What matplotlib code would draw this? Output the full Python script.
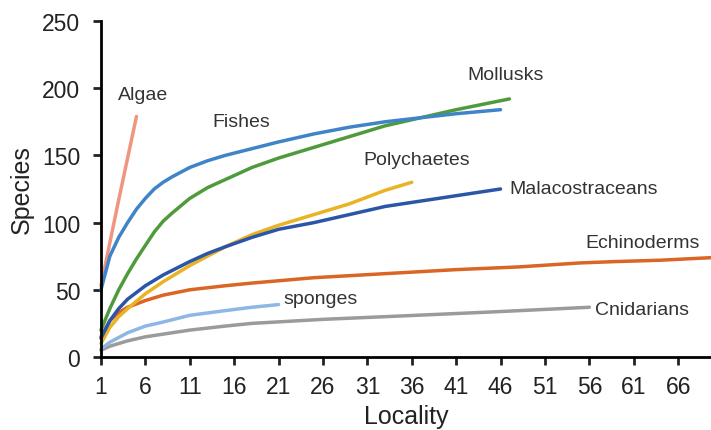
import matplotlib
matplotlib.use("Agg")
import matplotlib.pyplot as plt

plt.rcParams['font.family'] = ['Liberation Sans', 'DejaVu Sans']

# species accumulation curves
algae_x = [1, 2, 3, 4, 5]
algae_y = [53, 85, 117, 148, 179]

fishes_x = [1, 2, 3, 4, 5, 6, 7, 8, 9, 11, 13, 15, 18, 21, 25, 29, 33, 37, 41, 46]
fishes_y = [50, 75, 89, 100, 110, 118, 125, 130, 134, 141, 146, 150, 155, 160, 166, 171, 175, 178, 181, 184]

mollusks_x = [1, 2, 3, 4, 5, 6, 7, 8, 9, 11, 13, 15, 18, 21, 25, 29, 33, 37, 41, 47]
mollusks_y = [20, 36, 50, 62, 73, 83, 93, 101, 107, 118, 126, 132, 141, 148, 156, 164, 172, 178, 184, 192]

poly_x = [1, 2, 3, 4, 6, 8, 11, 13, 15, 18, 21, 25, 29, 33, 36]
poly_y = [10, 22, 30, 36, 47, 56, 68, 75, 82, 91, 98, 106, 114, 124, 130]

mala_x = [1, 2, 3, 4, 6, 8, 11, 13, 15, 18, 21, 25, 29, 33, 37, 41, 46]
mala_y = [14, 27, 36, 43, 53, 61, 71, 77, 82, 89, 95, 100, 106, 112, 116, 120, 125]

echino_x = [1, 2, 3, 4, 6, 8, 11, 15, 18, 25, 33, 41, 48, 55, 59, 64, 70]
echino_y = [15, 27, 33, 37, 42, 46, 50, 53, 55, 59, 62, 65, 67, 70, 71, 72, 74]

sponge_x = [1, 2, 4, 6, 8, 11, 15, 18, 21]
sponge_y = [6, 11, 18, 23, 26, 31, 34.5, 37, 39]

cnid_x = [1, 2, 4, 6, 8, 11, 15, 18, 26, 33, 45, 56]
cnid_y = [5, 8, 12, 15, 17, 20, 23, 25, 28, 30, 33.5, 37]

xticks = list(range(1, 67, 5))
yticks = [0, 50, 100, 150, 200, 250]

fig = plt.figure(figsize=(7.11, 4.31), dpi=100)
ax = fig.add_axes([0.142, 0.1694, 0.858, 0.7796])

lw = 2.5
series = [
    (algae_x, algae_y, '#F0957E'),
    (cnid_x, cnid_y, '#9B9B9B'),
    (sponge_x, sponge_y, '#8FB7E3'),
    (echino_x, echino_y, '#DB6524'),
    (poly_x, poly_y, '#E9B323'),
    (mala_x, mala_y, '#2B56A8'),
    (mollusks_x, mollusks_y, '#4F9B3B'),
    (fishes_x, fishes_y, '#3F84C7'),
]
for xs, ys, c in series:
    ax.plot(xs, ys, color=c, lw=lw, solid_capstyle='round',
            solid_joinstyle='round', clip_on=False)

# series labels
lab = dict(fontsize=14, color='#333333', va='center', ha='left')
ax.text(2.95, 195, 'Algae', **lab)
ax.text(13.5, 175.5, 'Fishes', **lab)
ax.text(42.3, 210, 'Mollusks', **lab)
ax.text(30.5, 147, 'Polychaetes', **lab)
ax.text(47.0, 125.7, 'Malacostraceans', **lab)
ax.text(55.5, 85, 'Echinoderms', **lab)
ax.text(21.5, 43.6, 'sponges', **lab)
ax.text(56.6, 35.7, 'Cnidarians', **lab)

ax.set_xlim(1, 69.7)
ax.set_ylim(0, 250)
ax.set_xticks(xticks)
ax.set_yticks(yticks)
ax.tick_params(labelsize=16.5, colors='#222222', width=2, length=6, direction='out')
ax.tick_params(axis='x', pad=7)
ax.tick_params(axis='y', pad=9)
for s in ['top', 'right']:
    ax.spines[s].set_visible(False)
for s in ['left', 'bottom']:
    ax.spines[s].set_linewidth(2)
    ax.spines[s].set_color('black')
ax.set_xlabel('Locality', fontsize=18, color='#222222', labelpad=4)
ax.set_ylabel('Species', fontsize=18, color='#222222', labelpad=6)

fig.savefig('out.png', dpi=100)
